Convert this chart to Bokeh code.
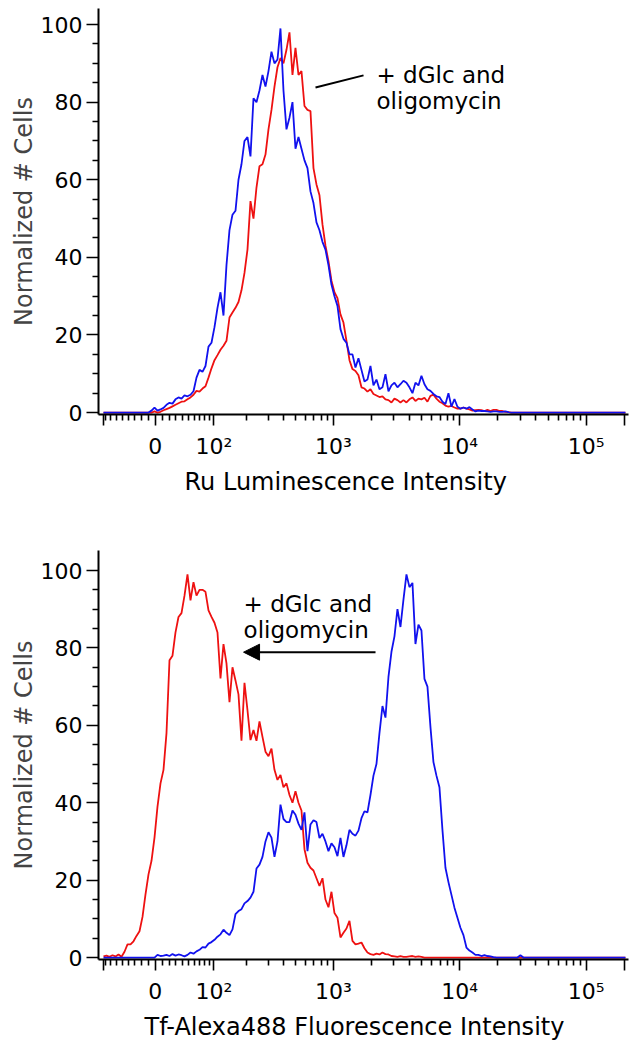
import numpy as np
from bokeh.plotting import figure
from bokeh.layouts import column
from bokeh.models import FixedTicker, Range1d, Title, Label, Arrow, NormalHead
from bokeh.embed import file_html
from bokeh.resources import INLINE

# ---------------- data (normalized cell counts per histogram channel) ----------------
TOP_BLUE = [0] * 16 + [
    0.5, 1.3, 0.5, 0.8, 1.2, 2.0, 2.5, 2.3, 3.4, 3.9, 3.6, 4.4, 4.2, 4.6, 5.5,
    9, 11, 10.5, 12, 17, 18, 22, 27, 31, 25,
    38, 47, 51, 52, 60, 64, 70, 71, 66, 81,
    80, 83, 87, 84, 88, 93, 90, 91, 99, 83,
    73, 76, 80, 68, 71, 68, 65, 63, 57, 54,
    49, 47, 44, 42, 38, 33, 30, 27.5, 21.5, 19,
    18, 15, 15, 11.6, 14, 11, 8, 8.5, 12, 7,
    8.5, 6, 6.5, 9.9, 5.5, 7, 7.7, 6.5, 7.3, 8.2,
    7.7, 6.5, 5, 7.7, 7, 9.5, 7.3, 6, 5.6, 4.8,
    4.2, 4, 2.8, 2.2, 5, 1.5, 3.5, 1.5, 1.0, 1.3,
    1.0, 1.4, 0.8, 0.3, 0.5, 0.4, 0.4, 0.3, 0.2, 0.3,
    0.3, 0.2, 0.2, 0.3, 0.1] + [0] * 39

TOP_RED = [0] * 17 + [
    0.3, 0, 0.2, 0.6, 0.9, 1.2, 1.6, 2.0, 2.4, 2.8, 2.9, 3.4, 3.9, 4.6,
    5.6, 5.4, 6.2, 6.8, 9, 11.4, 13.5, 14.8, 16.2, 17.2,
    18.5, 24.5, 25.8, 27, 28.5, 31.5, 36, 42, 54.5, 50,
    58, 63.5, 64, 66.5, 73, 78, 84, 89, 91.4, 90,
    93.5, 98, 87, 94, 87, 88, 79, 78, 77.7, 63,
    58.8, 56, 48.5, 43, 39, 34, 31, 29.5, 25.3, 23.2,
    18.5, 13.5, 11.2, 10.7, 9.6, 6.5, 6.2, 5.4, 6, 4.8,
    4.4, 4.0, 4.2, 3.4, 3.2, 2.6, 3.6, 3.2, 2.6, 3.2,
    2.6, 3.4, 3.9, 3.0, 3.6, 3.4, 3.8, 2.8, 4.3, 4.6,
    3.6, 2.8, 2.4, 1.8, 1.5, 1.7, 1.3, 1.0, 1.0, 1.3,
    1.0, 0.8, 0.5, 0.6, 0.7, 0.6, 0.4, 0.7, 0.4, 0.7,
    0.7, 0.4, 0.4, 0.2, 0.1] + [0] * 39

BOT_RED = [
    0.3, 0.5, 0.2, 0.6, 0.3, 0.8, 0.2,
    1.5, 3.4, 3.4, 4.2, 5.6, 6.8, 10.5, 16.3, 21.5, 25, 31,
    39, 45, 48.5, 58, 76.8, 78, 84, 88, 89, 93.5,
    99, 92.3, 97, 93.5, 95, 95, 94.5, 89.7, 88, 86.5,
    84, 72.1, 81, 76, 66, 75, 71.6, 68, 56, 71,
    63.9, 56.2, 58.8, 56, 61, 57, 53.2, 52, 54, 48.5,
    45.9, 47.2, 44, 45, 42, 40, 43, 40, 38, 28,
    24.5, 23.2, 22.5, 20.5, 18.5, 20.5, 15, 13, 17, 11.5,
    10.3, 5.2, 6.4, 7.5, 9.5, 4.3, 3.4, 3.6, 3.9, 2.4,
    1.3, 0.9, 0.7, 1.0, 0.8, 1.3, 0.9, 0.8, 0.4, 0.3,
    0.2, 0.4, 0.2, 0.2, 0.3, 0.4, 0.2, 0.3, 0.2] + [0] * 68

BOT_BLUE = [0] * 18 + [
    0.7, 0.4, 0.5, 0.7, 0.4, 0.9, 0.5, 0.8, 0.6, 0.3, 0.7,
    1.3, 1.0, 1.6, 2.0, 2.7, 2.6, 3.6, 4.0, 4.6, 5.4,
    6.0, 7.2, 6.4, 5.8, 7.3, 11.2, 12, 12.5, 14, 14.6,
    15.5, 17, 23, 24, 26, 30, 32.4, 31, 26, 30,
    39.5, 35.8, 35, 35, 38, 36.9, 34.6, 33, 37.5, 27.5,
    34.4, 35.5, 35, 30.9, 32, 30, 27.5, 29.5, 28.5, 26.2,
    30.9, 26, 29, 33, 32, 31.5, 32.8, 36, 37.8, 37.5,
    42, 47, 50, 58, 65, 62, 72.5, 79, 83, 90,
    85.4, 92.5, 99, 95.7, 96.8, 81, 86, 84.5, 72, 70,
    59.6, 50.5, 47, 44, 33, 23.2, 19.5, 16.2, 12.9, 10.3,
    7.7, 5.8, 2.6, 1.8, 1.3, 0.7, 0.7, 0.4, 0.6, 0.4, 0.3, 0.1] + [0] * 8 + [0.6] + [0] * 35

X_TICK_VALUES = [0, 100, 1000, 10000, 100000]
X_TICK_LABELS = ["0", "10²", "10³", "10⁴", "10⁵"]
Y_TICKS = [0, 20, 40, 60, 80, 100]
Y_LABEL = "Normalized # Cells"
TOP_XLABEL = "Ru Luminescence Intensity"
BOT_XLABEL = "Tf-Alexa488 Fluorescence Intensity"
ANNOT = ["+ dGlc and", "oligomycin"]

# ---------------- display (biexponential) scale ----------------
COF = 39.0


def disp(v):
    return float(np.log10(COF) + np.arcsinh(float(v) / (2 * COF)) / np.log(10))


CH0, DCH = 1.182, 0.02373      # display position of first channel, channel width
X_LO, X_HI = 1.1424, 5.3354

FONT = "DejaVu Sans"
RED = "#EE1111"
BLUE = "#1111EE"

minor_vals = ([-10 * k for k in range(1, 9)] + [10 * k for k in range(1, 10)] +
              [m * 10 ** e for e in (2, 3, 4) for m in range(2, 10)])
x_minor = [disp(v) for v in minor_vals]
x_major = [CH0] + [disp(v) for v in X_TICK_VALUES] + [disp(2e5)]
x_over = {CH0: "", disp(2e5): ""}
for v, lab in zip(X_TICK_VALUES, X_TICK_LABELS):
    x_over[disp(v)] = lab


def make_panel(red, blue, xlabel, height, top_border, bottom_border, y_end, title_offset):
    p = figure(width=633, height=height, output_backend="svg", toolbar_location=None,
               x_range=Range1d(X_LO, X_HI), y_range=Range1d(-0.5, y_end),
               min_border_left=98, min_border_right=5,
               min_border_top=top_border, min_border_bottom=bottom_border)
    p.outline_line_color = None
    p.grid.visible = False
    p.background_fill_color = "white"
    x = CH0 + DCH * np.arange(len(red))
    p.line(x, red, line_color=RED, line_width=1.8)
    p.line(x, blue, line_color=BLUE, line_width=1.8)

    for ax in (p.xaxis[0], p.yaxis[0]):
        ax.axis_line_width = 2
        ax.axis_line_color = "black"
        ax.major_tick_line_width = 1.6
        ax.minor_tick_line_width = 1.6
        ax.major_tick_in = 0
        ax.minor_tick_in = 0
        ax.major_label_text_font = FONT
        ax.major_label_text_font_size = "22px"
        ax.major_label_text_color = "black"

    ya = p.yaxis[0]
    ya.ticker = FixedTicker(ticks=Y_TICKS, minor_ticks=[v for v in range(5, 101, 5) if v % 20])
    ya.major_tick_out = 12
    ya.minor_tick_out = 6
    ya.major_label_standoff = 4
    ya.axis_label = Y_LABEL
    ya.axis_label_text_font = FONT
    ya.axis_label_text_font_size = "24px"
    ya.axis_label_text_font_style = "normal"
    ya.axis_label_standoff = 0

    xa = p.xaxis[0]
    xa.ticker = FixedTicker(ticks=x_major, minor_ticks=x_minor)
    xa.major_label_overrides = x_over
    xa.major_tick_out = 11
    xa.minor_tick_out = 6
    xa.major_label_standoff = 8

    t = Title(text=xlabel, align="left", offset=title_offset, text_font=FONT,
              text_font_size="24px", text_font_style="normal", text_color="black",
              vertical_align="top")
    if "standoff" in Title.properties():
        t.standoff = 12
    p.add_layout(t, "below")
    return p


def add_text(p, x, y1, y2):
    for y, txt in zip((y1, y2), ANNOT):
        p.add_layout(Label(x=x, y=y, text=txt, text_font=FONT, text_font_size="23px",
                           text_baseline="alphabetic", text_color="black"))


p1 = make_panel(TOP_RED, TOP_BLUE, TOP_XLABEL, 514, 8, 100, -0.5 + 406 / 3.88, 86)
add_text(p1, 3.342, 87.1, 80.4)
p1.add_layout(Arrow(end=None, x_start=2.859, y_start=83.8, x_end=3.239, y_end=86.9,
                    line_width=2, line_color="black"))

p2 = make_panel(BOT_RED, BOT_BLUE, BOT_XLABEL, 534, 36, 88, -0.5 + 410 / 3.88, 46)
add_text(p2, 2.290, 91.25, 84.55)
p2.add_layout(Arrow(end=NormalHead(size=16, fill_color="black", line_color="black"),
                    x_start=3.334, y_start=78.9, x_end=2.290, y_end=78.9,
                    line_width=2, line_color="black"))

layout = column(p1, p2, spacing=0)
open("out.html", "w").write(file_html(layout, INLINE))
